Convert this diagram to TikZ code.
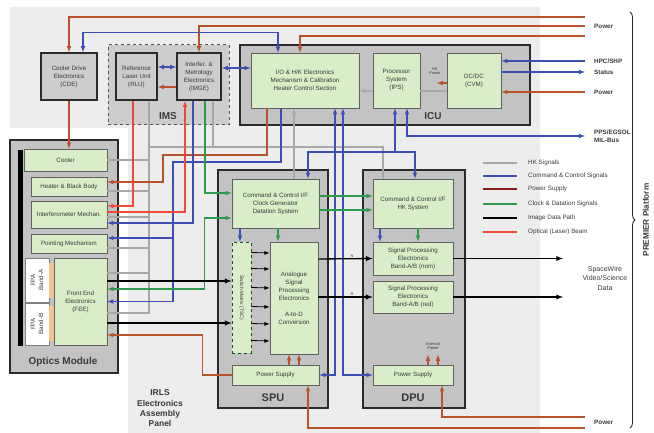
\documentclass[tikz,border=0pt]{standalone}
\usepackage{fontspec}
\setmainfont{Liberation Sans}
\usetikzlibrary{arrows,decorations.pathreplacing}
\definecolor{panel}{HTML}{EDEDED}
\definecolor{modfill}{HTML}{C3C3C3}
\definecolor{imsfill}{HTML}{CDCDCD}
\definecolor{boxgreen}{HTML}{D9EDC9}
\definecolor{edge}{HTML}{2B2B2B}
\definecolor{txtgray}{HTML}{3A3A3A}
\definecolor{hkgray}{HTML}{A8A8A8}
\definecolor{ccblue}{HTML}{3D4FB5}
\definecolor{pwred}{HTML}{B9532E}
\definecolor{psred}{HTML}{8E1B1B}
\definecolor{clkgreen}{HTML}{2F9A4E}
\definecolor{optred}{HTML}{EE4A3A}
\definecolor{fpaorange}{HTML}{F4C495}

\begin{document}
\begin{tikzpicture}[x=1pt, y=-1pt,
  sz/.style 2 args={minimum width=#1pt, minimum height=#2pt},
  txt/.style={font=\fontsize{6.2}{8}\selectfont, text=txtgray, align=center, inner sep=0pt},
  unit/.style={draw=edge, line width=1.6pt, fill=modfill},
  lru/.style={draw=edge, line width=1.5pt, fill=imsfill, txt},
  gbox/.style={draw=edge!75, line width=0.7pt, fill=boxgreen, txt},
  big/.style={font=\fontsize{10}{12}\selectfont\bfseries, text=txtgray, inner sep=0pt},
  ext/.style={font=\fontsize{6.3}{7.5}\selectfont\bfseries, text=txtgray, anchor=west, inner sep=0pt, align=left},
  smalltxt/.style={font=\fontsize{4}{4.6}\selectfont, text=txtgray, align=center, inner sep=0pt},
  hk/.style={draw=hkgray, line width=1.1pt},
  cc/.style={draw=ccblue, line width=1.1pt},
  pw/.style={draw=pwred, line width=1.1pt},
  clk/.style={draw=clkgreen, line width=1.1pt},
  img/.style={draw=black, line width=1.3pt},
  opt/.style={draw=optred, line width=1.1pt}]
\useasboundingbox (0,0) rectangle (654,433);
% pannello IRLS
\fill[panel] (10,7) -- (540,7) -- (540,433) -- (128,433) -- (128,128) -- (10,128) -- cycle;
\node[font=\fontsize{8.5}{10.3}\selectfont\bfseries, text=txtgray, align=center] (irls) at (160,408.5) {IRLS\\Electronics\\Assembly\\Panel};

% CDE, IMS, ICU
\node[lru, sz={56}{47}] (cde) at (69,76.5) {Cooler Drive\\Electronics\\(CDE)};
\node[draw=edge!80, dashed, line width=1pt, fill=imsfill, sz={121}{80}] (ims) at (168.5,85) {};
\node[big] (imslbl) at (168,116) {IMS};
\node[lru, sz={41}{47}] (rlu) at (136.5,76.5) {Reference\\Laser Unit\\(RLU)};
\node[lru, sz={44}{47}] (imge) at (199,76.5) {Interfer. \&\\Metrology\\Electronics\\(IMGE)};
\node[unit, sz={290}{80}] (icu) at (385,85) {};
\node[big] (iculbl) at (433,116) {ICU};
\node[gbox, sz={108}{55}] (io) at (305,80.5) {I/O \& H/K Electronics\\Mechanism \& Calibration\\Heater Control Section};
\node[gbox, sz={47}{55}] (ips) at (396.5,80.5) {Processor\\System\\(IPS)};
\node[gbox, sz={54}{55}] (dcdc) at (474,80.5) {DC/DC\\(CVM)};
\node[smalltxt] (hkpw) at (435,71) {HK\\Power};

% Optics Module
\node[unit, sz={108}{233}] (optics) at (64,256.5) {};
\fill (18,150) rectangle (23,346);
\node[big, font=\fontsize{10}{12}\selectfont\bfseries] (optlbl) at (63,362) {Optics Module};
\node[gbox, sz={83}{22}] (cooler) at (65.5,160) {Cooler};
\node[gbox, sz={76}{19}] (heater) at (69,186.5) {Heater \& Black Body};
\node[gbox, sz={76}{27}] (interf) at (69,214.5) {Interferometer Mechan.};
\node[gbox, sz={76}{19}] (point) at (69,243.5) {Pointing Mechanism};
\node[gbox, sz={53}{87}] (fee) at (80.5,301.5) {Front End\\Electronics\\(FEE)};
\node[draw=edge!60, fill=white, sz={24}{44}] (fpaa) at (37,280) {};
\node[txt, rotate=90] (fpaatxt) at (fpaa) {FPA\\Band-A};
\node[draw=edge!60, fill=white, sz={24}{42}] (fpab) at (37,324) {};
\node[txt, rotate=90] (fpabtxt) at (fpab) {FPA\\Band-B};
\fill[fpaorange] (49,263) rectangle (54,298);
\fill[fpaorange] (49,306) rectangle (54,341);

% SPU
\node[unit, sz={110}{238}] (spu) at (273,289) {};
\node[big, font=\fontsize{11}{12}\selectfont\bfseries] (spulbl) at (273,398) {SPU};
\node[gbox, sz={87}{49}] (spucc) at (275.5,203.5) {Command \& Control I/F\\Clock Generator\\Datation System};
\node[gbox, dashed, draw=clkgreen!50!black, sz={19}{111}] (swm) at (241.5,297.5) {};
\node[txt, rotate=-90, font=\fontsize{5}{6}\selectfont] (swmtxt) at (swm) {Switch Matrix (TSC)};
\node[gbox, sz={48}{112}] (asp) at (294,298) {Analogue\\Signal\\Processing\\Electronics\\[8pt]A-to-D\\Conversion};
\node[gbox, sz={87}{20}] (spups) at (275.5,375) {Power Supply};

% DPU
\node[unit, sz={102}{238}] (dpu) at (414,289) {};
\node[big, font=\fontsize{11}{12}\selectfont\bfseries] (dpulbl) at (413,398) {DPU};
\node[gbox, sz={80}{49}] (dpucc) at (413,203.5) {Command \& Control I/F\\HK System};
\node[gbox, sz={80}{33}] (spen) at (413,258.5) {Signal Processing\\Electronics\\Band-A/B (nom)};
\node[gbox, sz={80}{32}] (sper) at (413,297) {Signal Processing\\Electronics\\Band-A/B (red)};
\node[gbox, sz={80}{20}] (dpups) at (413,375) {Power Supply};
\node[smalltxt] (ipw) at (433,346) {Internal\\Power};

% estremi liberi e giunzioni
\coordinate (pa) at (585,17);
\coordinate (pb) at (585,26);
\coordinate (pc) at (585,36);
\coordinate (hpc) at (585,61);
\coordinate (stat) at (585,72);
\coordinate (pd) at (585,92);
\coordinate (mil) at (585,136);
\coordinate (pe) at (585,417);
\coordinate (pf) at (585,428);
\coordinate (sw) at (563,278);
\coordinate (hbj) at (163,155);
\coordinate (pmj) at (173,162);
\coordinate (ccj) at (395,152);
\coordinate (hkj) at (149,147);

% HK (grigio)
\draw[hk] ([xshift=12.5pt]rlu.south) |- (hkj) -| ([xshift=-30pt]dpucc.north);
\draw[hk] ([xshift=14pt]imge.south) |- (hkj);
\foreach \b/\d in {cooler/0, heater/-4.5, interf/-2.5, point/-4.5, fee/28.5, fee/-11.5}{
  \draw[hk] ([yshift=\d pt]\b.east) -| (hkj);
}
\draw[hk,latex-] ([xshift=-11pt]io.south) -- ([xshift=18.5pt]spucc.north);
\draw[hk,-latex] ([yshift=-10.5pt]ips.west) -- ([yshift=-10.5pt]io.east);
\draw[hk] ([yshift=-10.5pt]dcdc.west) -- ([yshift=-10.5pt]ips.east);

% alimentazioni
\draw[pw,-latex] (pa) -| (cde.north);
\draw[pw,-latex] (pb) -| (imge.north);
\draw[pw,-latex] (pc) -| ([xshift=-5pt]io.north);
\draw[pw,-latex] (pd) -- ([yshift=-11.5pt]dcdc.east);
\draw[pw,-latex] ([yshift=-2.5pt]dcdc.west) -- ++(-10,0);
\draw[pw,-latex] ([yshift=-10.5pt]imge.west) -- ([yshift=-10.5pt]rlu.east);
\draw[pw,-latex] (cde.south) -- (cde.south |- cooler.north);
\draw[pw,-latex] ([xshift=-38pt]io.south) |- (hbj) |- ([yshift=4.5pt]heater.east);
\draw[pw,-latex] (spups.west) -- ++(-29,0) |- ([yshift=-33.5pt]fee.east);
\draw[pw,-latex] (pe) -| ([xshift=29pt]dpups.south);
\draw[pw,-latex] (pf) -| ([xshift=32.5pt]spups.south);
\foreach \a/\b in {13.5/-5, 23.5/5}{
  \draw[pw,-latex] ([xshift=\a pt]spups.north) -- ([xshift=\b pt]asp.south);
}
\foreach \dx in {15,25}{
  \draw[pw,-latex] ([xshift=\dx pt]dpups.north) -- ++(0,-10);
}

% comandi (blu)
\draw[cc,latex-latex] ([xshift=14pt]cde.north) -- ++(0,-20) -| ([xshift=-27pt]io.north);
\draw[cc,latex-latex] ([yshift=9.5pt]rlu.east) -- ([yshift=9.5pt]imge.west);
\draw[cc,latex-latex] ([yshift=8.5pt]imge.east) -- ([yshift=12.5pt]io.west);
\draw[cc,-latex] (hpc) -- ([yshift=19.5pt]dcdc.east);
\draw[cc,-latex] ([yshift=8.5pt]dcdc.east) -- (stat);
\draw[cc,latex-latex] ([xshift=10.5pt]ips.south) |- (mil);
\draw[cc,latex-] ([xshift=-1.5pt]ips.south) -- (ccj);
\draw[cc,-latex] (ccj) -| ([xshift=32.5pt]spucc.north);
\draw[cc,-latex] (ccj) -| ([xshift=2pt]dpucc.north);
\draw[cc,-latex] ([xshift=-24pt]io.south) |- (pmj) |- (fee.east);
\draw[cc,latex-] ([yshift=5.5pt]point.east) -- ++(66,0);
\draw[cc,-latex] ([xshift=-6pt]imge.south) |- ([yshift=-8.5pt]interf.east);
\draw[cc,latex-latex] ([xshift=30pt]io.south) |- (spups.east);
\draw[cc,latex-latex] ([xshift=38pt]io.south) |- (dpups.west);
\draw[cc,-latex] ([xshift=-35.5pt]spucc.south) -- ([xshift=-1.5pt]swm.north);
\draw[cc,-latex] ([xshift=-33pt]dpucc.south) -- ([xshift=-33pt]spen.north);

% clock e datazione (verde)
\draw[clk,-latex] ([xshift=6pt]imge.south) |- ([yshift=10.5pt]spucc.west);
\draw[clk,latex-latex] ([yshift=-14.5pt]spucc.west) -- ++(-27,0) |- ([yshift=12.5pt]fee.east);
\draw[clk,-latex] ([yshift=7.5pt]spucc.east) -- ([yshift=7.5pt]dpucc.west);
\draw[clk,-latex] ([yshift=-6.5pt]spucc.east) -- ([yshift=-6.5pt]dpucc.west);
\draw[clk,-latex] ([xshift=2.5pt]spucc.south) -- ([xshift=-16pt]asp.north);
\draw[clk,-latex] ([xshift=5pt]dpucc.south) -- ([xshift=5pt]spen.north);

% fascio laser
\draw[opt,-latex] ([xshift=-3.5pt]rlu.south) |- ([yshift=8.5pt]interf.east);
\draw[opt,-latex] ([yshift=2.5pt]interf.east) -| ([xshift=-14pt]imge.south);

% dati immagine
\draw[img,-latex] ([yshift=20.5pt]fee.east) -- ([yshift=16.5pt]swm.west);
\draw[img,-latex] ([yshift=-21.5pt]fee.east) -- ([yshift=-25.5pt]swm.west);
\foreach \dy in {45,29,10,-9,-26,-43}{
  \draw[black, line width=0.8pt, -latex] ([yshift=\dy pt]swm.east) -- ([yshift=\dy pt]asp.west);
}
\draw[img,-latex] ([yshift=39pt]asp.east) -- (spen.west) node[pos=0.62, above, smalltxt, yshift=1pt] (nlbl) {N};
\draw[img,-latex] ([yshift=1pt]asp.east) -- (sper.west) node[pos=0.62, above, smalltxt, yshift=1pt] (rlbl) {R};
\draw[img,-latex] (spen.east) -- (spen.east -| sw);
\draw[img,-latex] (sper.east) -- (sper.east -| sw);

% legenda
\foreach \y/\c/\t in {163/hkgray/HK Signals, 176/ccblue/Command \& Control Signals, 189/psred/Power Supply, 204/clkgreen/Clock \& Datation Signals, 218/black/Image Data Path, 232/optred/Optical (Laser) Beam}{
  \draw[\c, line width=2.4pt] (483,\y) -- (517,\y);
  \node[anchor=west, inner sep=0pt, font=\fontsize{6.3}{7}\selectfont, text=txtgray] (lg-\y) at (528,\y) {\t};
}

% interfacce esterne
\node[ext] (tpw) at (594,26) {Power};
\node[ext] (thpc) at (594,61) {HPC/SHP};
\node[ext] (tstat) at (594,72) {Status};
\node[ext] (tpw2) at (594,92) {Power};
\node[ext] (tmil) at (594,136) {PPS/EGSOL\\MIL-Bus};
\node[ext] (tpw3) at (594,422) {Power};
\node[font=\fontsize{7}{9.5}\selectfont, text=txtgray, align=center] (swdata) at (605,278) {SpaceWire\\Video/Science\\Data};
\draw[edge, line width=0.9pt, decorate, decoration={brace, amplitude=5pt}] (630,12) -- (630,428);
\node[font=\fontsize{8.2}{9}\selectfont\bfseries, text=txtgray, rotate=90] (premier) at (646,220) {PREMIER Platform};
\end{tikzpicture}
\end{document}
